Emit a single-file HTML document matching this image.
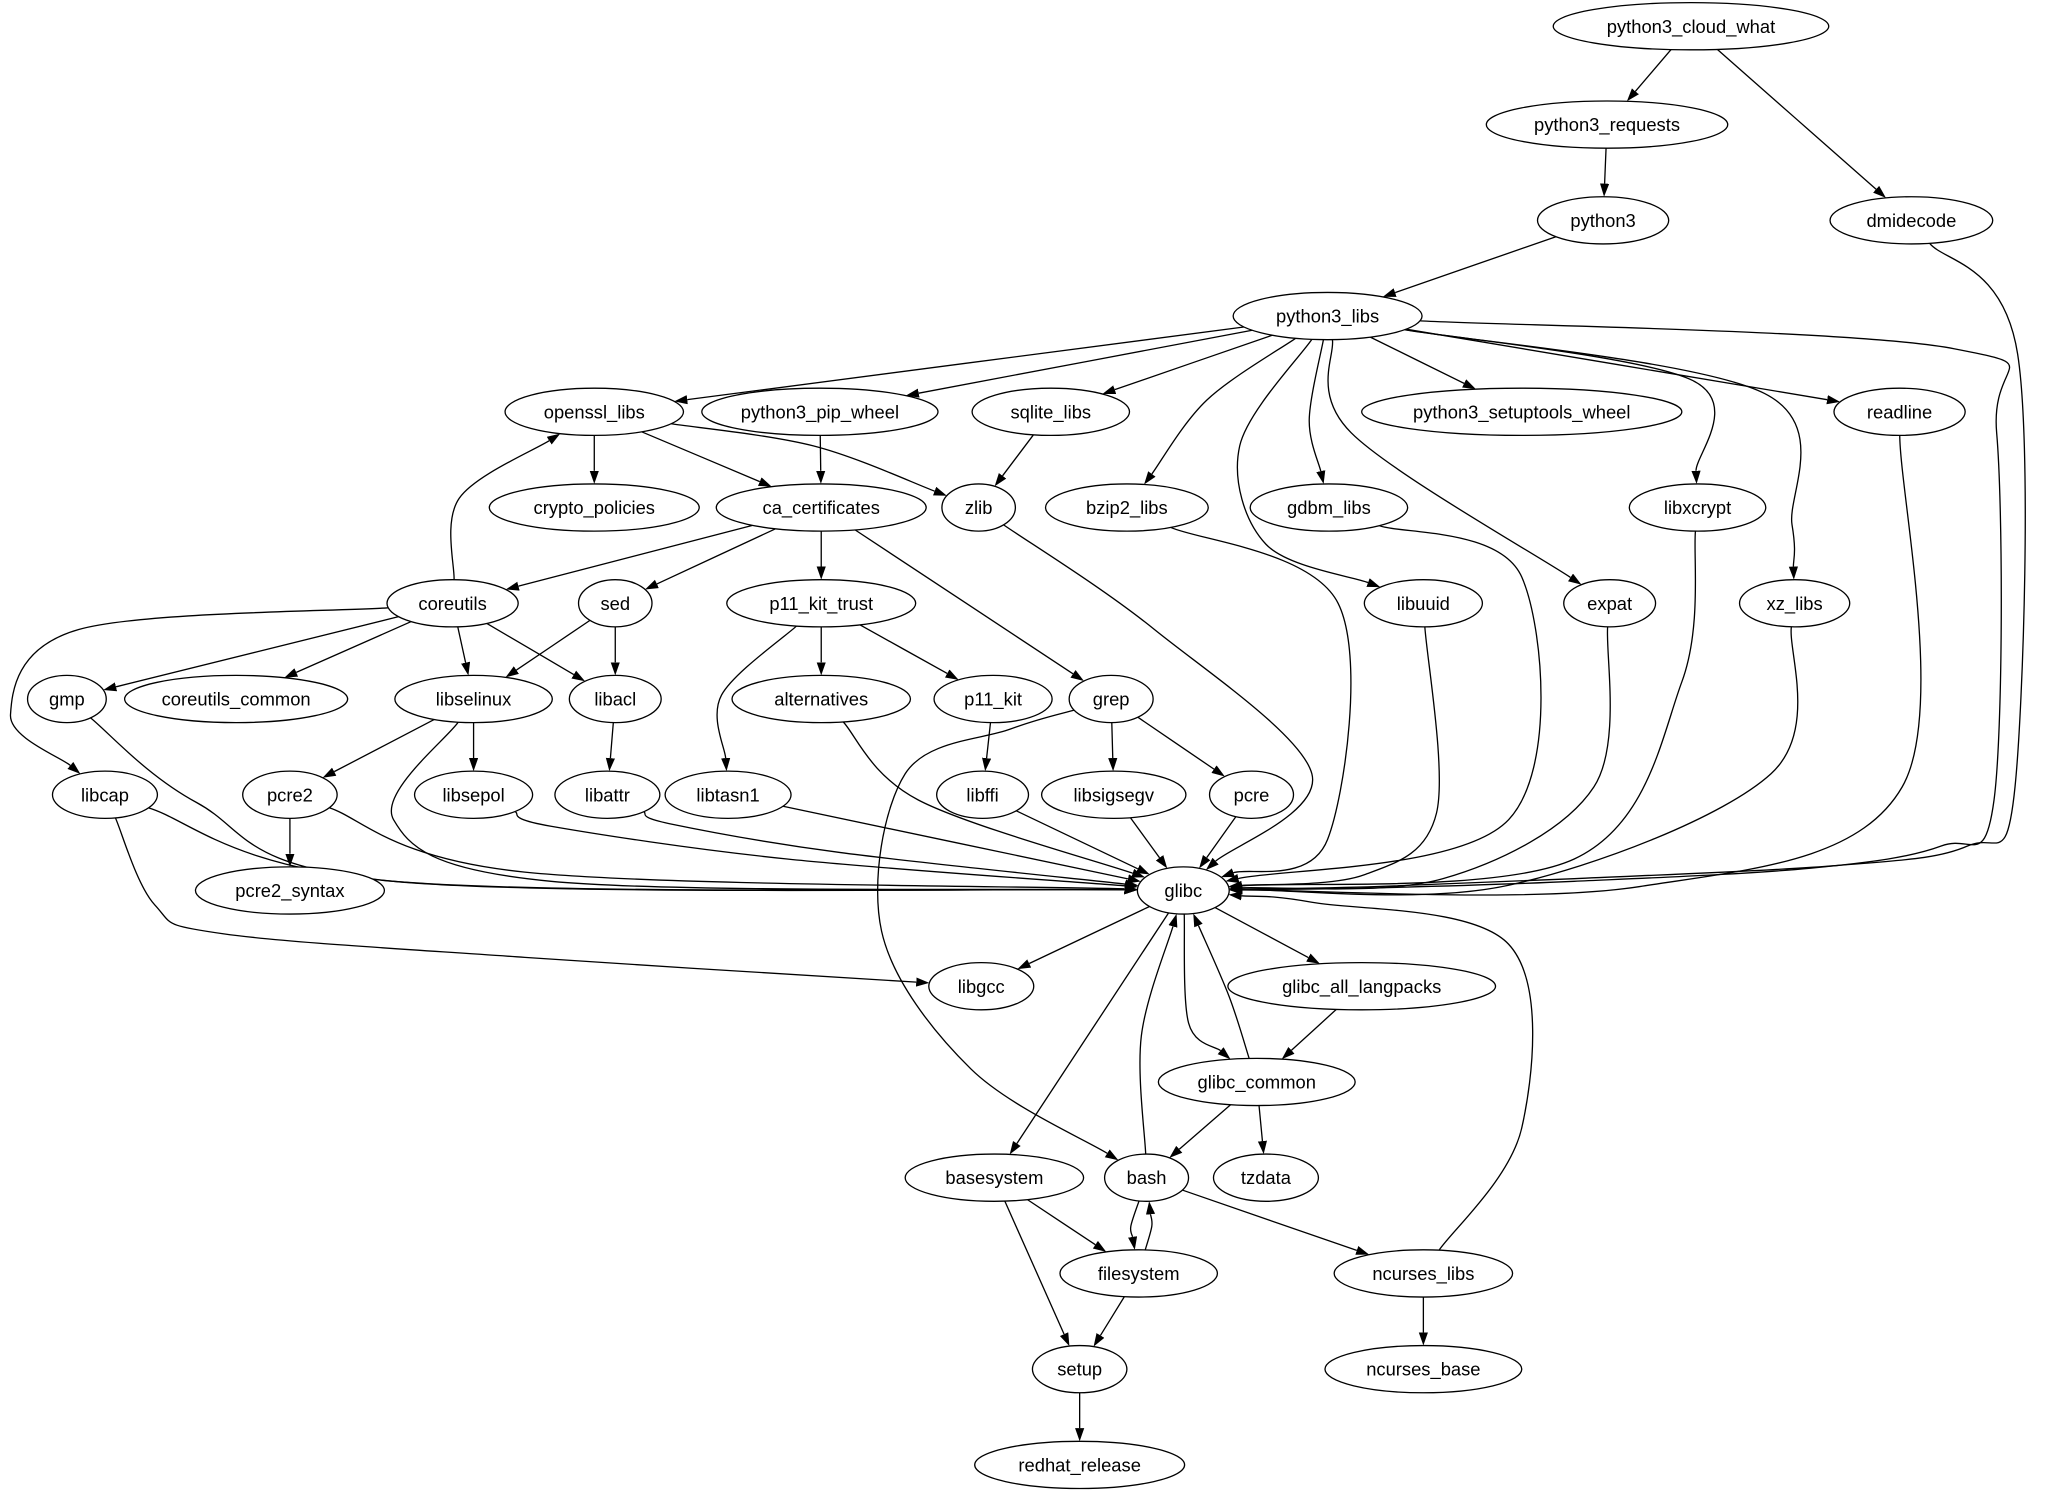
<!DOCTYPE html>
<html><head><meta charset="utf-8"><style>
html,body{margin:0;padding:0;background:#fff;}
svg{display:block;}
text{font-family:"Liberation Sans",sans-serif;font-size:14px;fill:#000;}
</style></head><body>
<svg id="g" xmlns="http://www.w3.org/2000/svg" width="2057" height="1499" viewBox="0 0 1568 1143" preserveAspectRatio="none">
<defs><marker id="a" markerUnits="userSpaceOnUse" markerWidth="11" markerHeight="8" refX="0" refY="3.5" orient="auto"><path d="M0,0 L10,3.5 L0,7 z" fill="#000"/></marker></defs>
<g id="e" fill="none" stroke="#000" stroke-width="1"></g>
<g id="n"></g>
</svg>
<script>
var N={
python3_cloud_what:[1289,20,105],python3_requests:[1225,95,92],python3:[1222,168,50],dmidecode:[1457,168,62],
python3_libs:[1012,241,72],openssl_libs:[453,314,68],python3_pip_wheel:[625,314,90],sqlite_libs:[801,314,60],
python3_setuptools_wheel:[1160,314,122],readline:[1448,314,50],crypto_policies:[453,387,80],ca_certificates:[626,387,80],
zlib:[746,387,28],bzip2_libs:[859,387,62],gdbm_libs:[1013,387,60],libxcrypt:[1294,387,52],coreutils:[345,460,50],
sed:[469,460,28],p11_kit_trust:[626,460,72],libuuid:[1085,460,45],expat:[1227,460,35],xz_libs:[1368,460,42],
gmp:[51,533,30],coreutils_common:[180,533,85],libselinux:[361,533,60],libacl:[469,533,35],alternatives:[626,533,68],
p11_kit:[757,533,45],grep:[847,533,32],libcap:[80,606,40],pcre2:[221,606,36],libsepol:[361,606,45],libattr:[463,606,40],
libtasn1:[555,606,48],libffi:[749,606,35],libsigsegv:[849,606,55],pcre:[954,606,32],glibc:[902,679,35],
pcre2_syntax:[221,679,72],libgcc:[748,752,40],glibc_all_langpacks:[1038,752,102],glibc_common:[958,825,75],
basesystem:[758,898,68],bash:[874,898,32],tzdata:[965,898,40],filesystem:[868,971,60],ncurses_libs:[1085,971,68],
setup:[823,1044,36],ncurses_base:[1085,1044,75],redhat_release:[823,1117,80]};
var E=[
["python3_cloud_what","python3_requests"],["python3_cloud_what","dmidecode"],["python3_requests","python3"],["python3","python3_libs"],
["dmidecode","glibc",[[1538,270],[1536,600],[1500,645],[1400,660],[1200,670],[1050,676]]],
["python3_libs","openssl_libs"],["python3_libs","python3_pip_wheel"],["python3_libs","sqlite_libs"],["python3_libs","python3_setuptools_wheel"],
["python3_libs","readline"],["python3_libs","bzip2_libs",[[920,305]]],["python3_libs","gdbm_libs",[[998,320]]],
["python3_libs","libuuid",[[945,340],[965,415]]],["python3_libs","expat",[[1030,330]]],["python3_libs","libxcrypt",[[1290,290]]],
["python3_libs","xz_libs",[[1345,300],[1366,400]]],["python3_libs","glibc",[[1490,266],[1522,330],[1520,610],[1480,645],[1380,662],[1200,672],[1050,677]]],
["openssl_libs","crypto_policies"],["openssl_libs","ca_certificates"],["openssl_libs","zlib",[[620,340]]],
["python3_pip_wheel","ca_certificates"],["sqlite_libs","zlib"],
["ca_certificates","coreutils"],["ca_certificates","sed"],["ca_certificates","p11_kit_trust"],["ca_certificates","grep"],
["zlib","glibc",[[880,480],[1000,590]]],["bzip2_libs","glibc",[[1020,460],[1012,640]]],["gdbm_libs","glibc",[[1160,440],[1150,625]]],
["libxcrypt","glibc",[[1282,520],[1200,655]]],["libuuid","glibc",[[1095,620],[1040,667]]],["expat","glibc",[[1215,600],[1100,670]]],
["xz_libs","glibc",[[1350,590],[1150,675]]],["readline","glibc",[[1450,600],[1250,676]]],
["coreutils","openssl_libs",[[350,380]]],["coreutils","gmp"],["coreutils","coreutils_common"],["coreutils","libselinux"],["coreutils","libacl"],
["coreutils","libcap",[[60,480],[8,545]]],["sed","libselinux"],["sed","libacl"],
["p11_kit_trust","alternatives"],["p11_kit_trust","p11_kit"],["p11_kit_trust","libtasn1",[[550,530]]],
["grep","libsigsegv"],["grep","pcre"],["grep","bash",[[770,556],[690,590],[672,710],[740,815]]],
["gmp","glibc",[[150,612],[300,672]]],["libselinux","pcre2"],["libselinux","libsepol"],["libselinux","glibc",[[300,625],[420,672]]],
["libacl","libattr"],["alternatives","glibc",[[700,610]]],["p11_kit","libffi"],
["libcap","glibc",[[300,672]]],["libcap","libgcc",[[118,690],[170,712],[400,730]]],
["pcre2","pcre2_syntax"],["pcre2","glibc",[[400,665]]],["libsepol","glibc",[[420,630],[600,655]]],["libattr","glibc",[[510,628],[640,650]]],["libtasn1","glibc"],
["libffi","glibc"],["libsigsegv","glibc"],["pcre","glibc"],
["glibc","libgcc"],["glibc","glibc_all_langpacks"],["glibc","glibc_common",[[906,780]]],["glibc","basesystem"],
["glibc_common","glibc",[[937,760]]],["glibc_all_langpacks","glibc_common"],["glibc_common","bash"],["glibc_common","tzdata"],
["bash","glibc",[[870,790]]],["bash","filesystem",[[862,935]]],["filesystem","bash",[[878,935]]],["bash","ncurses_libs"],
["basesystem","filesystem"],["basesystem","setup"],["filesystem","setup"],
["ncurses_libs","glibc",[[1160,860],[1150,720],[1000,688]]],["ncurses_libs","ncurses_base"],["setup","redhat_release"]];
var RY=18,ns="http://www.w3.org/2000/svg";
function bnd(n,tx,ty){var dx=tx-n[0],dy=ty-n[1];var t=1/Math.sqrt(dx*dx/(n[2]*n[2])+dy*dy/(RY*RY));return [n[0]+dx*t,n[1]+dy*t];}
var eg=document.getElementById('e'),ng=document.getElementById('n');
E.forEach(function(e){var s=N[e[0]],t=N[e[1]],w=e[2]||[];
var first=w.length?w[0]:[t[0],t[1]],last=w.length?w[w.length-1]:[s[0],s[1]];
var p0=bnd(s,first[0],first[1]),p1=bnd(t,last[0],last[1]);
var dx=p1[0]-last[0],dy=p1[1]-last[1];if(!w.length){dx=p1[0]-p0[0];dy=p1[1]-p0[1];}
var L=Math.sqrt(dx*dx+dy*dy);p1=[p1[0]-10*dx/L,p1[1]-10*dy/L];
var P=[p0].concat(w,[p1]);var d="M"+P[0][0]+","+P[0][1];
for(var i=0;i<P.length-1;i++){var a=P[Math.max(i-1,0)],b=P[i],c=P[i+1],f=P[Math.min(i+2,P.length-1)];
d+=" C"+(b[0]+(c[0]-a[0])/6)+","+(b[1]+(c[1]-a[1])/6)+" "+(c[0]-(f[0]-b[0])/6)+","+(c[1]-(f[1]-b[1])/6)+" "+c[0]+","+c[1];}
var p=document.createElementNS(ns,'path');p.setAttribute('d',d);p.setAttribute('marker-end','url(#a)');eg.appendChild(p);});
for(var k in N){var n=N[k];var el=document.createElementNS(ns,'ellipse');
el.setAttribute('cx',n[0]);el.setAttribute('cy',n[1]);el.setAttribute('rx',n[2]);el.setAttribute('ry',RY);
el.setAttribute('fill','#fff');el.setAttribute('stroke','#000');ng.appendChild(el);
var tx=document.createElementNS(ns,'text');tx.setAttribute('x',n[0]);tx.setAttribute('y',n[1]+5);tx.setAttribute('text-anchor','middle');
tx.textContent=k;ng.appendChild(tx);}
</script>
</body></html>
